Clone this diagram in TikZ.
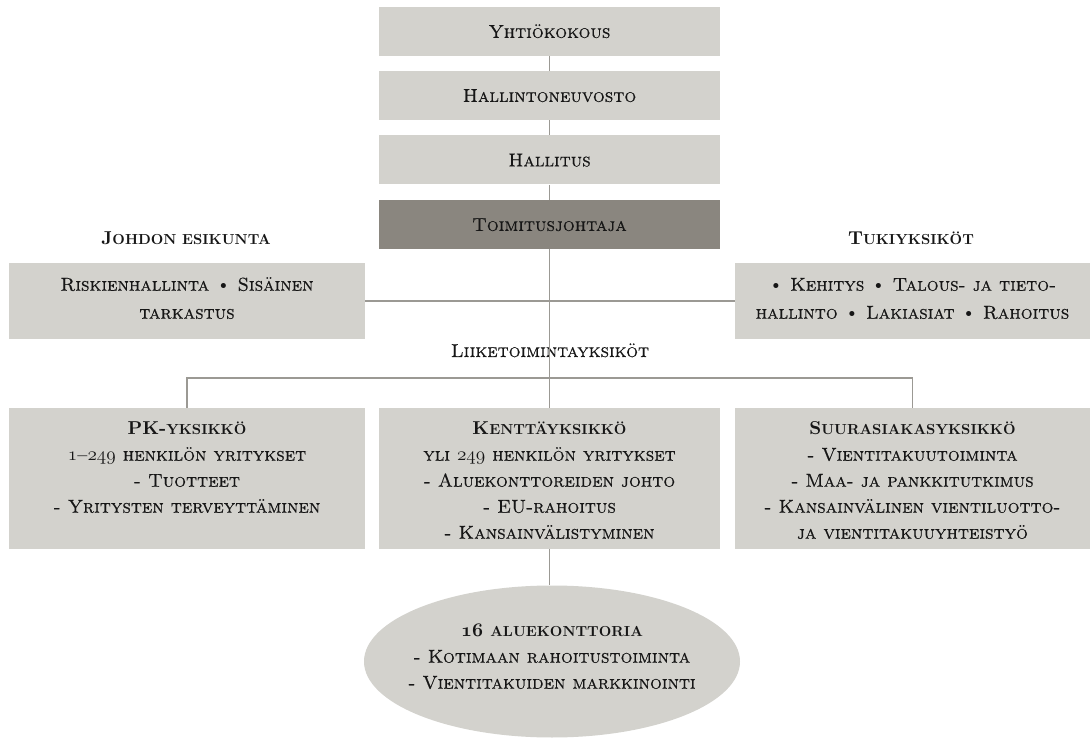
\documentclass[tikz,border=0pt]{standalone}
\usepackage{fontspec}
\newfontfamily\scf{lmromancaps10-regular.otf}[FakeBold=0.45]
\newfontfamily\bff{lmroman10-bold.otf}
\usetikzlibrary{shapes.geometric}
\definecolor{boxgray}{HTML}{D3D2CD}
\definecolor{darkbox}{HTML}{8A867F}
\definecolor{linegray}{HTML}{9B9994}
\definecolor{txt}{HTML}{161616}
\newcommand{\osn}[1]{{\usefont{OML}{cmm}{m}{it}#1}}
\newcommand{\osnb}[1]{{\usefont{OML}{cmm}{b}{it}#1}}
\newcommand{\bsc}[2]{{\bff #1{\fontsize{10.9}{12}\selectfont\MakeUppercase{#2}}}}
\newcommand{\bul}{{\rmfamily\textbullet}}
\newcommand{\fsz}{\fontsize{14}{19.5}\selectfont\scf}
\newcommand{\fszw}{\fontsize{14}{21}\selectfont\scf}
\newcommand{\fstrut}{\rule{0pt}{14pt}}
\begin{document}
\begin{tikzpicture}[x=0.75pt,y=-0.75pt,
  box/.style={rectangle, fill=boxgray, inner sep=0pt, text=txt, font=\fsz},
  sbox/.style={box, text height=9.6pt, text depth=0pt, minimum width=255.75pt, minimum height=36.75pt},
  link/.style={draw=linegray, line width=1pt},
  txtblk/.style={anchor=north, inner sep=0pt, align=center, text=txt, font=\fsz},
  txtblkw/.style={txtblk, font=\fszw},
  head/.style={anchor=base, inner sep=0pt, text=txt, font=\fsz}]
\useasboundingbox (0,0) rectangle (1090,738);

% top chain
\node[sbox] (yk) at (549.5,31.5) {Yhtiökokous};
\node[sbox] (hn) at (549.5,95.5) {Hallintoneuvosto};
\node[sbox] (hl) at (549.5,160) {Hallitus};
\node[sbox, fill=darkbox] (tj) at (549.5,224.5) {Toimitusjohtaja};

% side units
\node[head] (jeh) at (186,245) {\bsc{J}{ohdon esikunta}};
\node[head] (tuh) at (911,245) {\bsc{T}{ukiyksiköt}};
\node[box, minimum width=267pt, minimum height=57pt] (je) at (187,301) {};
\node[box, minimum width=266.25pt, minimum height=57pt] (tu) at (912.5,301) {};
\node[txtblkw] (jet) at (187,271.8) {\fstrut Riskienhallinta \bul{} Sisäinen\\tarkastus};
\node[txtblkw] (tut) at (912.5,271.8) {\fstrut\bul{} Kehitys \bul{} Talous- ja tieto-\\hallinto \bul{} Lakiasiat \bul{} Rahoitus};

% business units
\node[head] (lih) at (550,357) {Liiketoimintayksiköt};
\node[box, minimum width=267pt, minimum height=105.75pt] (pk) at (187,478.5) {};
\node[box, minimum width=255.75pt, minimum height=105.75pt] (ke) at (549.5,478.5) {};
\node[box, minimum width=266.25pt, minimum height=105.75pt] (su) at (912.5,478.5) {};
\node[txtblk] (pkt) at (187,415.8) {\fstrut\bsc{PK-}{yksikkö}\\
  \osn{1}–\osn{249} henkilön yritykset\\
  - Tuotteet\\
  - Yritysten terveyttäminen};
\node[txtblk] (ket) at (549.5,415.8) {\fstrut\bsc{K}{enttäyksikkö}\\
  yli \osn{249} henkilön yritykset\\
  - Aluekonttoreiden johto\\
  - EU-rahoitus\\
  - Kansainvälistyminen};
\node[txtblk] (sut) at (912.5,415.8) {\fstrut\bsc{S}{uurasiakasyksikkö}\\
  - Vientitakuutoiminta\\
  - Maa- ja pankkitutkimus\\
  - Kansainvälinen vientiluotto-\\
  ja vientitakuuyhteistyö};

% regional offices
\node[ellipse, fill=boxgray, inner sep=0pt, minimum width=282pt, minimum height=114pt] (al) at (552,661.5) {};
\node[txtblk] (alt) at (552,617.8) {\fstrut\bsc{\osnb{16} }{aluekonttoria}\\
  - Kotimaan rahoitustoiminta\\
  - Vientitakuiden markkinointi};

% connectors
\coordinate (busy) at (550,378);
\draw[link] (yk.south) -- (hn.north);
\draw[link] (hn.south) -- (hl.north);
\draw[link] (hl.south) -- (tj.north);
\draw[link] (tj.south) -- (ke.north);
\draw[link] (je.east) -- (tu.west);
\draw[link] (pk.north) -- (pk.north |- busy) -- (su.north |- busy) -- (su.north);
\draw[link] (ke.south) -- (ke.south |- al.north);
\end{tikzpicture}
\end{document}
